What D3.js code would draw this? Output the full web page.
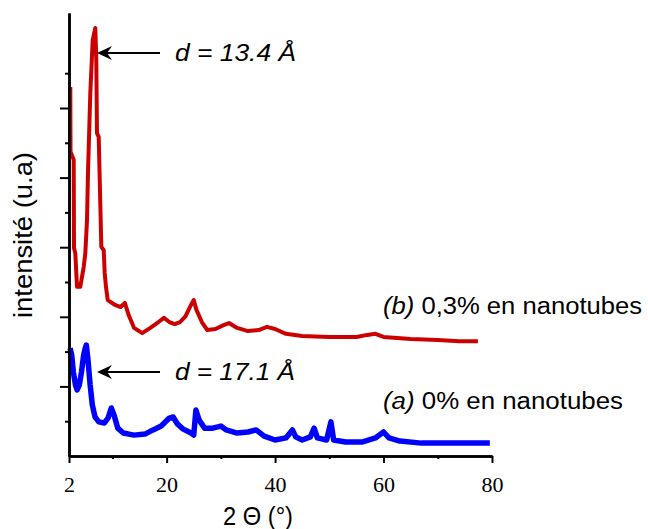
<!DOCTYPE html>
<html><head><meta charset="utf-8">
<script src="https://cdn.jsdelivr.net/npm/d3@7"></script>
<style>body{margin:0;background:#fff}svg{display:block}</style>
</head><body>
<script>
// 2θ (degrees) and intensity (arbitrary units)
const redTheta = [2.24,2.28,2.87,2.92,3.16,3.48,4.08,4.71,5.01,5.32,5.50,5.93,6.37,6.85,7.03,7.16,7.48,7.77,7.96,8.40,8.58,8.82,9.14,10.5,11.5,12.3,13,14,15.5,17,18.5,19.5,20.5,21.5,22.5,23.5,24.5,25,25.5,26.5,27.5,29,30.5,31.5,33,35,37,38.5,40,42,45,50,55,57,58.5,60,65,70,74,77.4];
const redInt   = [10.6,8.74,8.51,5.98,5.83,4.86,4.86,5.43,5.83,6.78,8.13,10.43,11.95,12.30,11.38,9.28,9.17,7.27,6.01,5.92,5.26,4.86,4.48,4.34,4.28,4.40,4.05,3.68,3.53,3.68,3.85,3.97,3.85,3.79,3.85,4.02,4.34,4.48,4.20,3.85,3.62,3.65,3.76,3.82,3.68,3.59,3.62,3.71,3.65,3.51,3.45,3.42,3.42,3.48,3.51,3.42,3.36,3.33,3.30,3.30];
const blueTheta = [2.2,2.5,2.8,3.2,3.5,3.9,4.3,4.7,5.0,5.2,5.5,5.9,6.3,6.8,7.5,8.5,9.2,9.8,10.3,11,12,14,16,17.5,19,20.5,21.2,22,23,24.5,25.0,25.4,26,27,28.5,30,31,33,35,36.5,38,40,42,43.2,43.8,45,46.5,47.2,47.8,49.5,50.3,50.8,53,56,58.5,60,61,63,67,70,75,79.6];
const blueInt   = [3.10,2.90,2.41,2.04,1.90,2.04,2.41,2.90,3.10,3.19,2.76,2.04,1.47,1.12,0.98,0.95,1.09,1.38,1.18,0.80,0.66,0.60,0.63,0.75,0.86,1.09,1.12,0.92,0.78,0.66,0.60,1.32,1.03,0.80,0.80,0.86,0.75,0.66,0.69,0.75,0.57,0.46,0.52,0.75,0.55,0.46,0.55,0.80,0.52,0.46,0.98,0.46,0.40,0.40,0.52,0.69,0.52,0.43,0.37,0.37,0.37,0.37];
const xMajorTicks = [2,20,40,60,80];
const xMinorTicks = [10,30,50,70];
const yMajorTicks = [2,4,6,8,10];
const yMinorTicks = [1,3,5,7,9,11];

const W=648,H=529;
const svg=d3.select("body").append("svg").attr("width",W).attr("height",H);
const x=d3.scaleLinear().domain([2,80]).range([69,492]);
const y=d3.scaleLinear().domain([0,12.73]).range([456,13]);

const line=d3.line().x(d=>x(d[0])).y(d=>y(d[1]));
svg.append("path").datum(d3.zip(redTheta,redInt)).attr("d",line)
  .attr("fill","none").attr("stroke","#cc0000").attr("stroke-width",4).attr("stroke-linejoin","round");
svg.append("path").datum(d3.zip(blueTheta,blueInt)).attr("d",line)
  .attr("fill","none").attr("stroke","#0000ff").attr("stroke-width",5.5).attr("stroke-linejoin","round");

// x axis
const gx=svg.append("g").attr("transform","translate(0,456)");
gx.call(d3.axisBottom(x).tickValues(xMajorTicks).tickSize(7).tickPadding(13).tickSizeOuter(0));
gx.append("g").call(d3.axisBottom(x).tickValues(xMinorTicks).tickSize(3).tickFormat("").tickSizeOuter(0));
gx.selectAll("path.domain").attr("stroke","#000").attr("stroke-width",2.5);
gx.selectAll(".tick line").attr("stroke","#000").attr("stroke-width",2);
gx.selectAll(".tick text").attr("font-family","Liberation Serif, serif").attr("font-size",22).attr("fill","#000");

// y axis
const gy=svg.append("g").attr("transform","translate(69,0)");
gy.call(d3.axisLeft(y).tickValues(yMajorTicks).tickSize(9).tickFormat("").tickSizeOuter(0));
gy.append("g").call(d3.axisLeft(y).tickValues(yMinorTicks).tickSize(4).tickFormat("").tickSizeOuter(0));
gy.selectAll("path.domain").attr("stroke","#000").attr("stroke-width",2.5);
gy.selectAll(".tick line").attr("stroke","#000").attr("stroke-width",2);

const ff="Liberation Sans, Arial, sans-serif";
// axis titles
svg.append("text").attr("x",223).attr("y",525)
  .attr("font-family",ff).attr("font-size",25)
  .attr("textLength",70).attr("lengthAdjust","spacingAndGlyphs").text("2 Θ (°)");
svg.append("text").attr("transform","translate(32,235) rotate(-90)").attr("text-anchor","middle")
  .attr("font-family",ff).attr("font-size",25)
  .attr("textLength",166).attr("lengthAdjust","spacingAndGlyphs").text("intensité (u.a)");

// annotations
function arrow(x1,x2,yy){
  svg.append("line").attr("x1",x1).attr("x2",x2+3).attr("y1",yy).attr("y2",yy)
    .attr("stroke","#000").attr("stroke-width",2);
  svg.append("path").attr("d",`M${x2},${yy} L${x2+15},${yy-7} L${x2+10},${yy} L${x2+15},${yy+7} Z`).attr("fill","#000");
}
arrow(160,97,53);
arrow(160,97,372);
svg.append("text").attr("x",175).attr("y",61).attr("font-family",ff).attr("font-size",24).attr("font-style","italic")
  .attr("textLength",121).attr("lengthAdjust","spacingAndGlyphs").text("d = 13.4 Å");
svg.append("text").attr("x",175).attr("y",380).attr("font-family",ff).attr("font-size",24).attr("font-style","italic")
  .attr("textLength",120).attr("lengthAdjust","spacingAndGlyphs").text("d = 17.1 Å");
const tb=svg.append("text").attr("x",383).attr("y",314).attr("font-family",ff).attr("font-size",23)
  .attr("textLength",259).attr("lengthAdjust","spacingAndGlyphs");
tb.append("tspan").attr("font-style","italic").text("(b)");
tb.append("tspan").text(" 0,3% en nanotubes");
const ta=svg.append("text").attr("x",383).attr("y",409).attr("font-family",ff).attr("font-size",23)
  .attr("textLength",240).attr("lengthAdjust","spacingAndGlyphs");
ta.append("tspan").attr("font-style","italic").text("(a)");
ta.append("tspan").text(" 0% en nanotubes");
</script>
</body></html>
